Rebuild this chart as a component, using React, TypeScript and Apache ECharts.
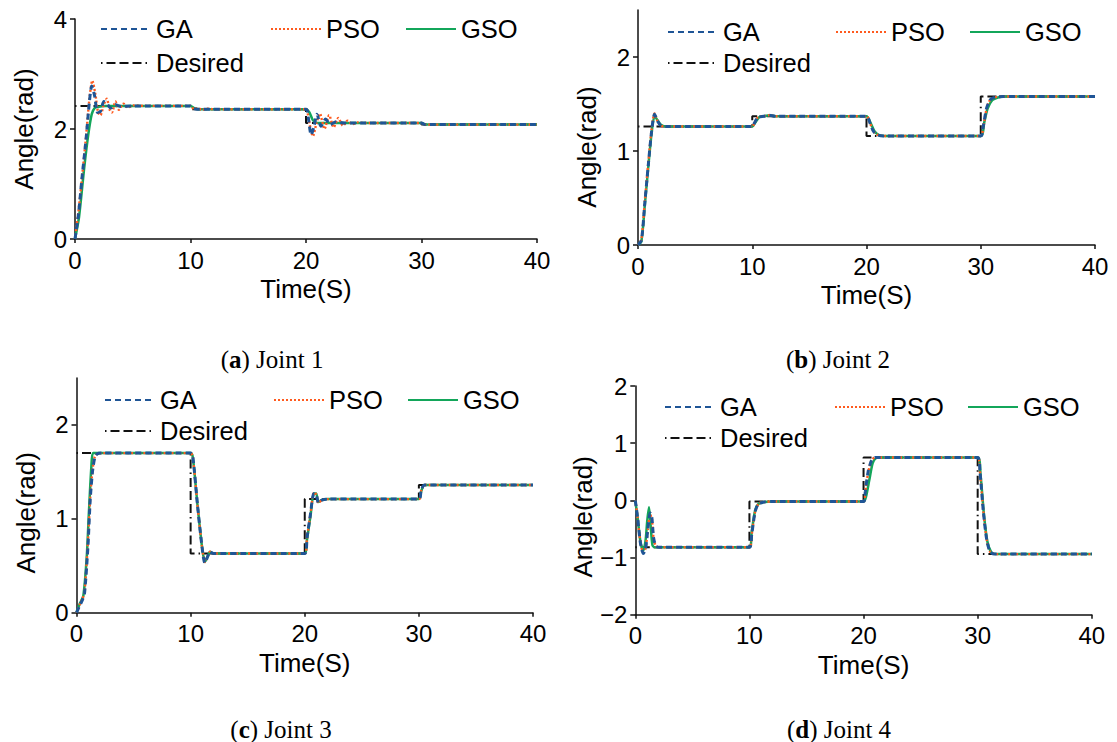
import React, { useEffect, useRef } from 'react';
import * as echarts from 'echarts';

type Pts = [number, number][];

// ---------- tick values ----------
const xTicks = [0, 10, 20, 30, 40];
const yTicksA = [0, 2, 4];
const yTicksB = [0, 1, 2];
const yTicksC = [0, 1, 2];
const yTicksD = [-2, -1, 0, 1, 2];

const seriesNames = ['GA', 'PSO', 'GSO', 'Desired'];
const captionLetters = ['a', 'b', 'c', 'd'];
const captionTexts = ['Joint 1', 'Joint 2', 'Joint 3', 'Joint 4'];

// ---------- Joint 1 ----------
const j1Desired: Pts = [[0, 2.42], [10, 2.42], [10, 2.36], [20, 2.36], [20, 2.11], [30, 2.11], [30, 2.08], [40, 2.08]];
const j1GA: Pts = [[0, 0], [0.3, 0.45], [0.6, 1.1], [0.95, 1.8], [1.25, 2.5], [1.45, 2.78], [1.7, 2.6], [1.95, 2.3], [2.2, 2.32], [2.5, 2.5], [2.8, 2.45], [3.1, 2.38], [3.5, 2.44], [4, 2.41], [5, 2.42], [10, 2.42], [10.3, 2.37], [10.6, 2.36], [20, 2.36], [20.2, 2.2], [20.45, 1.89], [20.7, 2.05], [20.95, 2.27], [21.3, 2.05], [21.7, 2.18], [22.1, 2.08], [22.6, 2.13], [23.3, 2.11], [30, 2.11], [30.3, 2.08], [40, 2.08]];
const j1PSO: Pts = [[0, 0], [0.3, 0.5], [0.55, 1.0], [0.95, 1.85], [1.25, 2.55], [1.5, 2.88], [1.75, 2.65], [2.0, 2.3], [2.2, 2.25], [2.5, 2.45], [2.75, 2.55], [3.0, 2.35], [3.2, 2.3], [3.5, 2.5], [3.8, 2.35], [4.2, 2.46], [4.6, 2.39], [5, 2.43], [6, 2.42], [10, 2.42], [10.3, 2.36], [10.6, 2.38], [11, 2.35], [11.5, 2.37], [12, 2.36], [20, 2.36], [20.2, 2.2], [20.6, 1.87], [20.9, 2.1], [21.2, 2.28], [21.6, 2.0], [22.0, 2.25], [22.4, 2.03], [22.8, 2.2], [23.2, 2.06], [23.6, 2.15], [24, 2.09], [24.5, 2.12], [25, 2.11], [30, 2.11], [30.3, 2.08], [40, 2.08]];
const j1GSO: Pts = [[0, 0], [0.35, 0.4], [0.8, 1.3], [1.15, 1.9], [1.45, 2.27], [1.7, 2.38], [2.0, 2.4], [2.5, 2.42], [10, 2.42], [10.4, 2.37], [10.8, 2.36], [20, 2.36], [20.3, 2.3], [20.6, 2.16], [21, 2.11], [30, 2.11], [30.4, 2.08], [40, 2.08]];

// ---------- Joint 2 ----------
const j2Desired: Pts = [[0, 1.26], [10, 1.26], [10, 1.37], [20, 1.37], [20, 1.16], [30, 1.16], [30, 1.58], [40, 1.58]];
const j2GA: Pts = [[0, 0], [0.3, 0.05], [0.6, 0.45], [0.9, 0.85], [1.2, 1.22], [1.45, 1.39], [1.7, 1.32], [2.0, 1.27], [2.5, 1.26], [10, 1.26], [10.2, 1.3], [10.5, 1.36], [11, 1.37], [11.5, 1.38], [12, 1.37], [20, 1.37], [20.3, 1.3], [20.6, 1.21], [21, 1.17], [21.5, 1.16], [30, 1.16], [30.2, 1.25], [30.5, 1.45], [30.8, 1.54], [31.2, 1.57], [32, 1.58], [40, 1.58]];
const j2PSO: Pts = [[0, 0], [0.3, 0.06], [0.6, 0.47], [0.9, 0.87], [1.2, 1.24], [1.45, 1.4], [1.7, 1.32], [2.0, 1.27], [2.5, 1.26], [10, 1.26], [10.2, 1.3], [10.5, 1.36], [11, 1.37], [11.5, 1.38], [12, 1.37], [20, 1.37], [20.3, 1.3], [20.6, 1.21], [21, 1.17], [21.5, 1.16], [30, 1.16], [30.2, 1.24], [30.5, 1.44], [30.8, 1.54], [31.2, 1.57], [32, 1.58], [40, 1.58]];
const j2GSO: Pts = [[0, 0], [0.3, 0.04], [0.6, 0.43], [0.9, 0.83], [1.2, 1.2], [1.45, 1.37], [1.7, 1.33], [2.0, 1.28], [2.5, 1.26], [10, 1.26], [10.25, 1.3], [10.6, 1.36], [11, 1.37], [11.5, 1.38], [12, 1.37], [20, 1.37], [20.35, 1.3], [20.7, 1.21], [21.1, 1.17], [21.6, 1.16], [30, 1.16], [30.3, 1.3], [30.6, 1.45], [31, 1.54], [31.5, 1.57], [32.2, 1.58], [40, 1.58]];

// ---------- Joint 3 ----------
const j3Desired: Pts = [[0, 1.7], [10, 1.7], [10, 0.63], [20, 0.63], [20, 1.21], [30, 1.21], [30, 1.36], [40, 1.36]];
const j3GA: Pts = [[0, 0], [0.3, 0.08], [0.5, 0.13], [0.7, 0.2], [1.0, 0.7], [1.2, 1.2], [1.4, 1.5], [1.6, 1.65], [1.8, 1.69], [2.2, 1.7], [10, 1.7], [10.2, 1.65], [10.6, 1.15], [11.0, 0.7], [11.25, 0.53], [11.5, 0.6], [11.7, 0.65], [12, 0.63], [20, 0.63], [20.2, 0.8], [20.5, 1.05], [20.8, 1.27], [21.0, 1.26], [21.2, 1.17], [21.5, 1.2], [22, 1.21], [30, 1.21], [30.2, 1.3], [30.5, 1.36], [40, 1.36]];
const j3PSO: Pts = [[0, 0], [0.3, 0.09], [0.5, 0.14], [0.7, 0.22], [1.0, 0.75], [1.2, 1.22], [1.4, 1.52], [1.6, 1.66], [1.8, 1.69], [2.2, 1.7], [10, 1.7], [10.2, 1.65], [10.6, 1.15], [11.0, 0.7], [11.25, 0.54], [11.5, 0.6], [11.7, 0.65], [12, 0.63], [20, 0.63], [20.2, 0.8], [20.5, 1.05], [20.8, 1.28], [21.0, 1.26], [21.2, 1.17], [21.5, 1.2], [22, 1.21], [30, 1.21], [30.2, 1.3], [30.5, 1.36], [40, 1.36]];
const j3GSO: Pts = [[0, 0], [0.3, 0.1], [0.6, 0.18], [0.9, 0.6], [1.1, 1.1], [1.3, 1.55], [1.45, 1.7], [2, 1.7], [10, 1.7], [10.2, 1.65], [10.6, 1.15], [11.0, 0.7], [11.25, 0.54], [11.5, 0.6], [11.7, 0.65], [12, 0.63], [20, 0.63], [20.2, 0.78], [20.5, 1.03], [20.8, 1.27], [21.0, 1.27], [21.2, 1.18], [21.5, 1.2], [22, 1.21], [30, 1.21], [30.2, 1.29], [30.5, 1.36], [40, 1.36]];

// ---------- Joint 4 ----------
const j4Desired: Pts = [[0, -0.82], [10, -0.82], [10, -0.02], [20, -0.02], [20, 0.75], [30, 0.75], [30, -0.94], [40, -0.94]];
const j4GA: Pts = [[0, 0], [0.2, -0.3], [0.45, -0.75], [0.7, -0.93], [0.9, -0.85], [1.1, -0.5], [1.3, -0.22], [1.45, -0.3], [1.6, -0.65], [1.8, -0.8], [2.1, -0.82], [10, -0.82], [10.2, -0.6], [10.5, -0.2], [10.8, -0.06], [11.3, -0.03], [12, -0.02], [20, -0.02], [20.15, 0.15], [20.4, 0.5], [20.7, 0.7], [21, 0.75], [30, 0.75], [30.2, 0.5], [30.5, -0.2], [30.8, -0.7], [31.1, -0.9], [31.5, -0.94], [40, -0.94]];
const j4PSO: Pts = [[0, 0], [0.2, -0.3], [0.45, -0.74], [0.7, -0.91], [0.9, -0.84], [1.1, -0.52], [1.3, -0.25], [1.45, -0.32], [1.6, -0.66], [1.8, -0.8], [2.1, -0.82], [10, -0.82], [10.2, -0.6], [10.5, -0.2], [10.8, -0.06], [11.3, -0.03], [12, -0.02], [20, -0.02], [20.15, 0.14], [20.4, 0.48], [20.7, 0.7], [21, 0.75], [30, 0.75], [30.2, 0.5], [30.5, -0.2], [30.8, -0.7], [31.1, -0.9], [31.5, -0.94], [40, -0.94]];
const j4GSO: Pts = [[0, 0], [0.2, -0.3], [0.45, -0.72], [0.7, -0.88], [0.9, -0.7], [1.05, -0.35], [1.2, -0.12], [1.35, -0.45], [1.5, -0.78], [1.7, -0.82], [10, -0.82], [10.2, -0.55], [10.5, -0.18], [10.8, -0.06], [11.3, -0.03], [12, -0.02], [20, -0.02], [20.2, 0.05], [20.5, 0.35], [20.8, 0.65], [21.1, 0.74], [21.5, 0.75], [30, 0.75], [30.25, 0.45], [30.55, -0.25], [30.85, -0.72], [31.2, -0.91], [31.6, -0.94], [40, -0.94]];

const jointData = [
  { GA: j1GA, PSO: j1PSO, GSO: j1GSO, Desired: j1Desired },
  { GA: j2GA, PSO: j2PSO, GSO: j2GSO, Desired: j2Desired },
  { GA: j3GA, PSO: j3PSO, GSO: j3GSO, Desired: j3Desired },
  { GA: j4GA, PSO: j4PSO, GSO: j4GSO, Desired: j4Desired },
];
const yTickSets = [yTicksA, yTicksB, yTicksC, yTicksD];

// ---------- layout / style ----------
const SANS = '"Liberation Sans", Arial, Helvetica, sans-serif';
const SERIF = '"Liberation Serif", "Times New Roman", serif';

const grids = [
  { left: 75, top: 19, width: 462, height: 220 },
  { left: 638, top: 10, width: 457, height: 235 },
  { left: 76.5, top: 378, width: 456.5, height: 234.7 },
  { left: 635.3, top: 386, width: 456.5, height: 228.7 },
];
const yRanges = [[0, 4], [0, 2.5], [0, 2.5], [-2, 2]];
const yNamePad = [0, 39, 35, 33];

const legendPos: Record<string, [number, number]>[] = [
  { GA: [100, 16], PSO: [270, 16], GSO: [405, 16], Desired: [100, 50] },
  { GA: [667, 19], PSO: [835, 19], GSO: [969, 19], Desired: [667, 50] },
  { GA: [104, 387], PSO: [273, 387], GSO: [407, 387], Desired: [104, 418] },
  { GA: [664, 394], PSO: [834, 394], GSO: [967, 394], Desired: [664, 425] },
];
const captionPos = [[272, 359], [838, 359], [281, 729], [839, 729]];

const styles: Record<string, any> = {
  Desired: { color: '#111111', width: 2, type: [1.5, 4, 9, 4, 9, 4, 9, 4] },
  GSO: { color: '#13a65a', width: 2.5, type: 'solid' },
  PSO: { color: '#ff5a1e', width: 2.4, type: [2, 2] },
  GA: { color: '#1f5596', width: 3, type: [6, 4] },
};
const drawOrder = ['Desired', 'GSO', 'PSO', 'GA'];

function buildOption() {
  const axisLine = { show: true, onZero: false, lineStyle: { color: '#111', width: 1.5 } };
  const minus = (v: number) => String(v).replace('-', '\u2212');

  const xAxis = grids.map((_, i) => ({
    type: 'value',
    gridIndex: i,
    min: 0,
    max: 40,
    interval: 10,
    name: 'Time(S)',
    nameLocation: 'middle',
    nameGap: 37,
    nameTextStyle: { fontFamily: SANS, fontSize: 26, color: '#000' },
    axisLine,
    axisTick: { show: true, inside: false, length: 4, lineStyle: { color: '#111', width: 1.5 }, customValues: xTicks },
    axisLabel: { show: true, margin: 9, fontFamily: SANS, fontSize: 24, color: '#000', customValues: xTicks },
    splitLine: { show: false },
  }));

  const yAxis = grids.map((_, i) => ({
    type: 'value',
    gridIndex: i,
    min: yRanges[i][0],
    max: yRanges[i][1],
    interval: 1,
    name: 'Angle(rad)',
    nameLocation: 'middle',
    nameGap: 38,
    nameTextStyle: { fontFamily: SANS, fontSize: 26, color: '#000', padding: [0, yNamePad[i], 0, 0] },
    axisLine,
    axisTick: { show: true, inside: false, length: 5, lineStyle: { color: '#111', width: 1.5 }, customValues: yTickSets[i] },
    axisLabel: { show: true, margin: 8, fontFamily: SANS, fontSize: 24, color: '#000', customValues: yTickSets[i], formatter: (v: number) => minus(v) },
    splitLine: { show: false },
  }));

  const series: any[] = [];
  jointData.forEach((jd: any, i) => {
    drawOrder.forEach((name) => {
      const s = styles[name];
      series.push({
        type: 'line',
        name,
        xAxisIndex: i,
        yAxisIndex: i,
        data: jd[name],
        symbol: 'none',
        smooth: name === 'Desired' ? false : 0.25,
        lineStyle: { color: s.color, width: s.width, type: s.type },
        itemStyle: { color: s.color },
        emphasis: { disabled: true },
        z: 2 + drawOrder.indexOf(name),
      });
    });
  });

  const legend: any[] = [];
  legendPos.forEach((lp) => {
    seriesNames.forEach((name) => {
      legend.push({
        data: [name],
        left: lp[name][0],
        top: lp[name][1],
        padding: 0,
        itemWidth: 50,
        itemHeight: 14,
        itemGap: 0,
        selectedMode: false,
        itemStyle: { opacity: 0 },
        textStyle: { fontFamily: SANS, fontSize: 25.5, color: '#000' },
      });
    });
  });

  const graphic = captionLetters.map((letter, i) => ({
    type: 'text',
    x: captionPos[i][0],
    y: captionPos[i][1],
    style: {
      text: `({b|${letter}}) ${captionTexts[i]}`,
      fontFamily: SERIF,
      fontSize: 25,
      fill: '#000',
      align: 'center',
      verticalAlign: 'middle',
      rich: { b: { fontFamily: SERIF, fontSize: 25, fontWeight: 'bold', fill: '#000' } },
    },
  }));

  return {
    animation: false,
    backgroundColor: '#ffffff',
    grid: grids.map((g) => ({ ...g, containLabel: false, outerBoundsMode: 'none' })),
    xAxis,
    yAxis,
    legend,
    series,
    graphic,
  };
}

export default function App() {
  const ref = useRef<HTMLDivElement>(null);
  useEffect(() => {
    if (!ref.current) return;
    const chart = echarts.init(ref.current, undefined, { renderer: 'svg' });
    chart.setOption(buildOption() as any);
    return () => chart.dispose();
  }, []);
  return (
    <div
      ref={ref}
      style={{ position: 'fixed', left: 0, top: 0, width: 1117, height: 742, background: '#fff' }}
    />
  );
}
